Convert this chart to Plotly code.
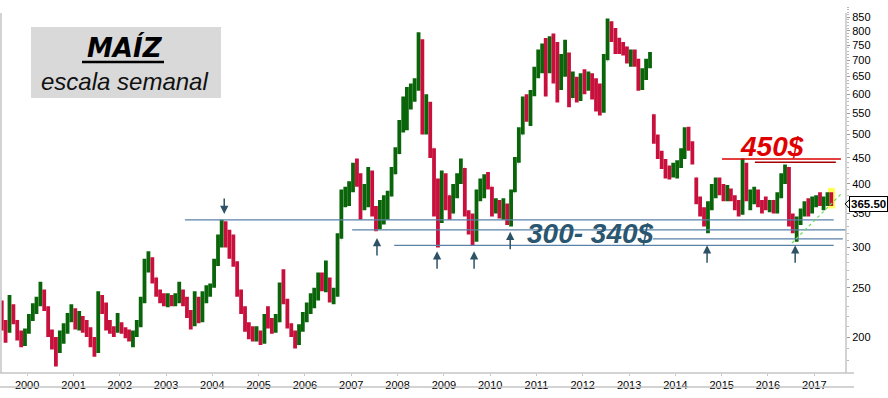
import numpy as np
import pandas as pd
import plotly.graph_objects as go

# ---------------- data (monthly OHLC) ----------------
first_month = "1999-06-01"
open_ = [
    228, 212, 205, 226, 215, 200, 194,
    205, 218, 228, 236, 245, 228, 205, 192, 188, 200, 208, 218,
    226, 212, 218, 208, 203, 195, 188, 232, 230, 208, 206, 205,
    212, 206, 202, 198, 203, 212, 236, 270, 280, 262, 245, 238,
    236, 240, 234, 236, 245, 236, 222, 212, 238, 218, 240, 245,
    252, 280, 312, 325, 320, 300, 280, 244, 228, 208, 202, 200,
    202, 196, 215, 212, 206, 215, 240, 236, 212, 203, 194, 208,
    218, 225, 238, 242, 260, 250, 255, 238, 245, 312, 375, 380,
    395, 420, 415, 365, 378, 420, 350, 330, 345, 360, 380, 420,
    460, 510, 560, 570, 610, 620, 760, 530, 560, 470, 380, 340,
    405, 380, 350, 390, 410, 430, 350, 325, 312, 380, 400, 410,
    395, 355, 360, 345, 352, 340, 385, 440, 500, 570, 545, 600,
    660, 710, 740, 720, 740, 700, 620, 680, 720, 590, 640, 590,
    645, 640, 650, 600, 580, 560, 700, 810, 800, 760, 750, 740,
    700, 725, 700, 635, 650, 690, 546, 490, 460, 440, 430, 420,
    422, 435, 455, 500, 480, 410, 370, 350, 335, 360, 390, 405,
    395, 380, 385, 375, 360, 350, 430, 375, 380, 385, 365, 360,
    358, 370, 355, 380, 410, 430, 345, 330, 335, 350, 360, 355,
    370, 375, 368, 372, 375,
]
high = [
    236, 216, 242, 232, 216, 206, 208,
    222, 233, 240, 257, 248, 230, 207, 200, 206, 213, 223, 232,
    228, 225, 220, 216, 209, 200, 246, 242, 234, 216, 210, 223,
    214, 209, 207, 206, 216, 240, 285, 295, 287, 262, 248, 244,
    244, 242, 244, 257, 248, 240, 226, 246, 240, 246, 253, 255,
    285, 318, 340, 338, 325, 318, 282, 248, 230, 214, 210, 210,
    206, 222, 230, 218, 222, 256, 272, 238, 213, 206, 212, 224,
    234, 244, 250, 268, 268, 283, 262, 250, 320, 390, 395, 405,
    440, 449, 420, 400, 432, 425, 362, 372, 380, 388, 432, 472,
    534, 594, 620, 630, 645, 795, 770, 600, 580, 470, 410, 425,
    420, 380, 400, 420, 449, 430, 355, 350, 390, 410, 418, 422,
    395, 375, 372, 375, 366, 390, 452, 517, 594, 600, 612, 680,
    735, 755, 774, 780, 790, 760, 720, 768, 725, 665, 650, 660,
    672, 665, 660, 645, 630, 720, 846, 835, 810, 775, 760, 745,
    735, 735, 705, 675, 705, 727, 548, 500, 465, 448, 435, 440,
    445, 470, 517, 518, 485, 412, 378, 360, 370, 400, 412, 412,
    400, 398, 392, 380, 372, 449, 440, 390, 395, 390, 372, 378,
    372, 372, 385, 420, 437, 432, 350, 345, 358, 370, 375, 378,
    380, 385, 378, 385, 385,
]
low = [
    206, 195, 204, 212, 197, 191, 192,
    203, 215, 222, 230, 225, 200, 189, 175, 186, 194, 203, 214,
    207, 206, 204, 200, 191, 183, 186, 222, 206, 203, 200, 204,
    203, 199, 196, 191, 200, 209, 233, 268, 255, 240, 233, 230,
    229, 230, 230, 233, 230, 218, 207, 210, 213, 214, 233, 240,
    250, 276, 300, 300, 285, 275, 240, 222, 205, 198, 196, 196,
    193, 194, 208, 203, 204, 214, 232, 208, 200, 190, 193, 205,
    214, 222, 228, 236, 246, 245, 234, 232, 240, 312, 360, 362,
    385, 395, 340, 355, 360, 345, 323, 326, 333, 340, 378, 418,
    458, 505, 510, 560, 580, 610, 500, 500, 450, 345, 300, 335,
    355, 340, 350, 375, 400, 345, 318, 302, 308, 370, 375, 390,
    345, 350, 342, 340, 332, 330, 385, 440, 500, 530, 520, 595,
    645, 660, 594, 660, 630, 578, 612, 650, 566, 590, 578, 582,
    600, 610, 586, 555, 545, 552, 700, 760, 720, 720, 715, 690,
    680, 680, 610, 612, 640, 675, 480, 448, 428, 410, 408, 412,
    410, 430, 448, 465, 437, 365, 345, 330, 320, 355, 375, 380,
    370, 370, 370, 355, 345, 348, 370, 355, 365, 360, 350, 355,
    352, 350, 350, 375, 400, 330, 320, 308, 332, 345, 345, 350,
    360, 362, 355, 362, 362,
]
close = [
    212, 205, 226, 215, 200, 194, 205,
    218, 228, 236, 245, 230, 205, 192, 188, 200, 208, 218, 226,
    212, 218, 208, 203, 195, 188, 232, 228, 208, 206, 205, 212,
    206, 202, 198, 203, 212, 236, 270, 280, 262, 245, 238, 236,
    240, 234, 236, 245, 236, 222, 212, 238, 218, 240, 245, 250,
    280, 312, 325, 320, 300, 280, 244, 228, 208, 202, 200, 202,
    196, 215, 212, 206, 215, 240, 236, 212, 203, 194, 208, 218,
    225, 238, 242, 260, 250, 255, 238, 245, 312, 375, 380, 395,
    420, 415, 365, 378, 420, 350, 330, 345, 360, 380, 420, 460,
    510, 560, 570, 610, 620, 760, 520, 560, 470, 380, 340, 405,
    380, 350, 390, 410, 430, 350, 325, 312, 380, 400, 410, 395,
    355, 360, 345, 352, 340, 385, 440, 500, 570, 545, 600, 660,
    710, 740, 720, 740, 700, 620, 680, 720, 590, 640, 590, 645,
    640, 650, 600, 580, 560, 700, 810, 800, 760, 750, 740, 700,
    725, 700, 635, 650, 690, 715, 490, 460, 440, 430, 420, 422,
    435, 455, 500, 480, 445, 370, 350, 335, 360, 390, 405, 395,
    380, 385, 375, 360, 352, 430, 375, 380, 385, 365, 360, 358,
    370, 355, 380, 410, 430, 345, 330, 335, 350, 360, 355, 370,
    375, 368, 372, 375, 365.5,
]
last_price = 365.50

y_ticks = [200, 250, 300, 350, 400, 450, 500, 550, 600, 650, 700, 750, 800, 850]
years = list(range(2000, 2018))

# support / resistance levels
support_levels = [340, 325, 312, 303]
support_starts = ["2003-05-30", "2007-01-08", "2013-07-08", "2007-12-06"]
support_ends = ["2017-06-03", "2017-09-08", "2017-08-14", "2017-06-03"]
resist_levels = [448, 441]
resist_starts = ["2015-01-04", "2015-09-20"]
resist_ends = ["2017-07-30", "2017-06-20"]

# arrows marking the lows (up) and the 2004 high (down)
low_dates = ["2007-07-23", "2008-11-08", "2009-08-27", "2010-06-08", "2014-09-08", "2016-08-03"]
low_marks = [313, 295, 295, 322, 303, 303]
high_date, high_mark = "2004-04-04", 349

trend_dates = ["2016-07-08", "2017-07-30"]
trend_values = [306, 382]

# ---------------- figure ----------------
months = pd.date_range(first_month, periods=len(close), freq="MS") + pd.Timedelta(days=14)

W, H = 888, 398
ML, MR, MT, MB = 1, 42, 0, 25
PW, PH = W - ML - MR, H - MT - MB


def px(xp):
    return (xp - ML) / PW


def py(yp):
    return (MT + PH - yp) / PH


fig = go.Figure()
fig.add_trace(go.Ohlc(
    x=months, open=open_, high=high, low=low, close=close,
    increasing=dict(line=dict(color="#0a650a", width=3.8)),
    decreasing=dict(line=dict(color="#c8103c", width=3.8)),
    tickwidth=0.05, hoverinfo="skip", showlegend=False,
))

shapes = []
# yellow highlight on the last bar
shapes.append(dict(type="rect", xref="x", yref="y", x0="2017-04-20", x1="2017-06-13",
                   y0=358, y1=393, fillcolor="#ffff55", line=dict(width=0), layer="below"))
for lv, s, e in zip(support_levels, support_starts, support_ends):
    shapes.append(dict(type="line", xref="x", yref="y", x0=s, x1=e, y0=lv, y1=lv,
                       line=dict(color="#5a82a8", width=1.2)))
for lv, s, e, c in zip(resist_levels, resist_starts, resist_ends, ["#dd0000", "#a80000"]):
    shapes.append(dict(type="line", xref="x", yref="y", x0=s, x1=e, y0=lv, y1=lv,
                       line=dict(color=c, width=1.5)))
shapes.append(dict(type="line", xref="x", yref="y", x0=trend_dates[0], x1=trend_dates[1],
                   y0=trend_values[0], y1=trend_values[1],
                   line=dict(color="#66dd55", width=1.2, dash="dot")))
# frame lines
gray = "#c4c4c4"
shapes += [
    dict(type="line", xref="paper", yref="paper", x0=px(0), x1=px(854), y0=py(373), y1=py(373),
         line=dict(color=gray, width=1.5)),
    dict(type="line", xref="paper", yref="paper", x0=px(0), x1=px(854), y0=py(387), y1=py(387),
         line=dict(color=gray, width=1.5)),
    dict(type="line", xref="paper", yref="paper", x0=px(1), x1=px(1), y0=py(13), y1=py(373),
         line=dict(color=gray, width=1.5)),
    dict(type="line", xref="paper", yref="paper", x0=px(846), x1=px(846), y0=py(13), y1=py(373),
         line=dict(color=gray, width=1.5)),
]
# title box
shapes.append(dict(type="rect", xref="paper", yref="paper", x0=px(31), x1=px(221),
                   y0=py(98), y1=py(27), fillcolor="#d9d9d9", line=dict(width=0), layer="below"))
shapes.append(dict(type="line", xref="paper", yref="paper", x0=px(82), x1=px(164),
                   y0=py(62), y1=py(62), line=dict(color="black", width=2.5)))
# price tag pointer
tag_hi, tag_lo = last_price * 1.018, last_price * 0.982
shapes += [
    dict(type="line", xref="paper", yref="y", x0=px(849), x1=px(845), y0=tag_hi, y1=last_price,
         line=dict(color="black", width=1)),
    dict(type="line", xref="paper", yref="y", x0=px(845), x1=px(849), y0=last_price, y1=tag_lo,
         line=dict(color="black", width=1)),
]

annotations = []
arrow_col = "#2d5266"
for d, v in zip(low_dates, low_marks):
    annotations.append(dict(x=d, y=np.log10(v), xref="x", yref="y", text="", showarrow=True,
                            ax=0, ay=19, arrowhead=2, arrowsize=1.1, arrowwidth=1.5,
                            arrowcolor=arrow_col))
annotations.append(dict(x=high_date, y=np.log10(high_mark), xref="x", yref="y", text="",
                        showarrow=True, ax=0, ay=-17, arrowhead=2, arrowsize=1.1,
                        arrowwidth=1.5, arrowcolor=arrow_col))
annotations.append(dict(x="2016-02-03", y=np.log10(473), xref="x", yref="y",
                        xanchor="center", yanchor="middle",
                        text="<b><i>450$</i></b>", showarrow=False,
                        font=dict(family="Liberation Sans, Arial", size=28, color="#e00000")))
annotations.append(dict(x="2012-03-01", y=np.log10(320), xref="x", yref="y",
                        xanchor="center", yanchor="middle",
                        text="<b><i>300- 340$</i></b>", showarrow=False,
                        font=dict(family="Liberation Sans, Arial", size=28, color="#2b5670")))
annotations.append(dict(x=px(125), y=py(48), xref="paper", yref="paper",
                        xanchor="center", yanchor="middle",
                        text="<b><i>MAÍZ</i></b>", showarrow=False,
                        font=dict(family="DejaVu Sans, Liberation Sans", size=26, color="black")))
annotations.append(dict(x=px(124), y=py(81), xref="paper", yref="paper",
                        xanchor="center", yanchor="middle",
                        text="<i>escala semanal</i>", showarrow=False,
                        font=dict(family="Liberation Sans, Arial", size=24, color="#111111")))
annotations.append(dict(x=px(849), y=np.log10(last_price), xref="paper", yref="y",
                        xanchor="left", yanchor="middle", text=f"<b>{last_price:.2f}</b>",
                        showarrow=False, bgcolor="white", bordercolor="black", borderwidth=1,
                        borderpad=1, font=dict(family="Liberation Sans, Arial", size=11.5,
                                               color="black")))

minor_vals = list(range(180, 900, 10))

fig.update_layout(
    width=W, height=H, margin=dict(l=ML, r=MR, t=MT, b=MB),
    paper_bgcolor="white", plot_bgcolor="white", showlegend=False,
    shapes=shapes, annotations=annotations,
    xaxis=dict(type="date", range=["1999-06-09", "2017-09-08"],
               tickvals=[f"{y}-01-01" for y in years], ticktext=[str(y) for y in years],
               ticks="outside", ticklen=2, tickcolor=gray, showgrid=False, zeroline=False,
               showline=False, rangeslider=dict(visible=False), automargin=False,
               tickfont=dict(family="Liberation Sans Narrow, Liberation Sans, Arial",
                             size=11, color="black")),
    yaxis=dict(type="log", side="right", range=[np.log10(170), np.log10(919.5)],
               tickvals=y_ticks, ticktext=[str(v) for v in y_ticks],
               ticks="outside", ticklen=3, tickcolor="#999999", showgrid=False,
               zeroline=False, showline=False, automargin=False,
               minor=dict(tickmode="array", tickvals=minor_vals, ticks="outside",
                          ticklen=2, tickcolor="#bbbbbb"),
               tickfont=dict(family="Liberation Sans, Arial", size=11, color="black")),
)

fig.write_html("out.html", config={"displayModeBar": False},
               post_script="document.body.style.margin='0px';"
                           "document.body.style.overflow='hidden';")
